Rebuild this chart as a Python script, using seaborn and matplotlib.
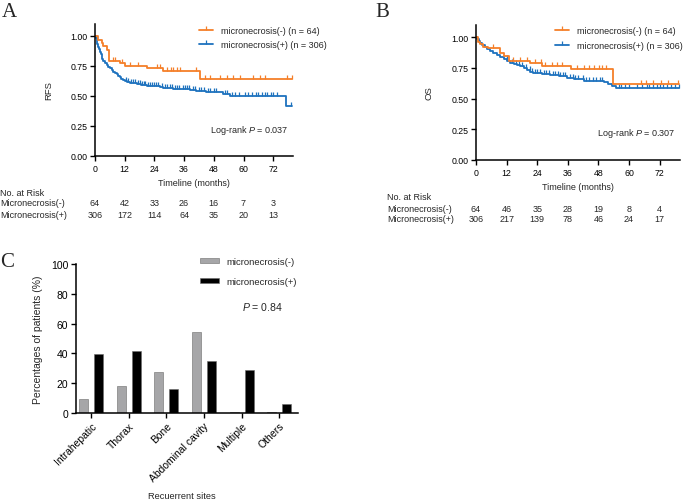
import numpy as np
import pandas as pd
import matplotlib
matplotlib.use("Agg")
import matplotlib.pyplot as plt
import matplotlib.transforms as mtransforms
from matplotlib.lines import Line2D
import seaborn as sns

sns.set_style("ticks")
plt.rcParams["font.family"] = ["Liberation Sans", "DejaVu Sans"]
plt.rcParams["mathtext.fontset"] = "custom"
plt.rcParams["mathtext.it"] = "Liberation Sans:italic"
plt.rcParams["mathtext.rm"] = "Liberation Sans"

ORANGE = "#F57F29"
BLUE = "#1E72BE"

# ---- Panel A: RFS (step points) ----
a_neg_t = [0, 1.35, 2.7, 3.4, 4.7, 5.0, 5.7, 10.1, 12.3, 20.9, 27.5, 42.3, 79.5]
a_neg_s = [1.0, 0.97, 0.94, 0.92, 0.905, 0.88, 0.793, 0.778, 0.75, 0.73, 0.705, 0.645, 0.645]
a_neg_cens = [7.1, 8.1, 10.8, 14.1, 17.5, 25.2, 26.2, 29.2, 30.6, 31.6, 33.0, 34.3, 41.0,
              44.4, 46.4, 50.5, 53.2, 55.9, 58.5, 63.9, 66.6, 68.6, 77.4, 79.4]

a_pos_t = [0, 0.3, 0.7, 1.0, 1.35, 1.7, 2.0, 2.4, 2.7, 3.0, 3.4, 4.0, 4.7, 5.4, 6.1, 6.8,
           7.4, 8.0, 8.7, 9.4, 10.1, 10.7, 11.4, 12.1, 12.8, 13.5, 14.1, 15.5, 16.8, 18.5,
           20.9, 23.5, 26.2, 27.6, 29.5, 31.6, 35.0, 38.4, 41.0, 45.0, 50.5, 51.8, 54.5,
           77.0, 79.5]
a_pos_s = [1.0, 0.98, 0.96, 0.935, 0.91, 0.89, 0.87, 0.85, 0.83, 0.81, 0.79, 0.775, 0.76,
           0.745, 0.73, 0.715, 0.70, 0.69, 0.68, 0.67, 0.66, 0.645, 0.63, 0.622, 0.617,
           0.613, 0.61, 0.605, 0.60, 0.594, 0.587, 0.584, 0.578, 0.57, 0.565, 0.56, 0.556,
           0.553, 0.54, 0.537, 0.533, 0.514, 0.50, 0.413, 0.413]
a_pos_cens = [12.5, 13.2, 14.6, 15.2, 16, 17.3, 18, 19, 19.6, 20.3, 21.5, 22.3, 23, 24,
              24.8, 25.6, 27, 28.3, 29, 30.3, 31, 32.4, 33.2, 34, 35.5, 36.2, 37, 38, 39.5,
              40.5, 42, 43, 44, 45.5, 46.5, 48, 49, 52.5, 53.3, 55.5, 56.5, 58, 60.5, 62,
              63.5, 65, 66, 67.5, 68.5, 69.5, 71, 72, 73.5, 79]
a_risk_neg = [64, 42, 33, 26, 16, 7, 3]
a_risk_pos = [306, 172, 114, 64, 35, 20, 13]

# ---- Panel B: OS ----
b_neg_t = [0, 0.9, 1.6, 2.9, 4.9, 9.5, 10.8, 12.8, 21.3, 25.9, 37.1, 53.6, 79.5]
b_neg_s = [1.0, 0.964, 0.945, 0.922, 0.91, 0.875, 0.845, 0.81, 0.787, 0.765, 0.74, 0.623, 0.623]
b_neg_cens = [6.8, 14.7, 17.4, 20.0, 23.3, 25.3, 27.2, 29.9, 31.8, 33.8, 39.7, 42.4, 44.3,
              46.3, 48.3, 49.6, 50.9, 64.7, 66.7, 69.3, 72.6, 75.3, 79.2]

b_pos_t = [0, 0.5, 1.0, 1.6, 2.5, 3.6, 4.5, 5.5, 6.8, 8.2, 9.5, 10.8, 12.1, 13.4, 14.8,
           16.1, 17.4, 18.7, 20.0, 21.3, 22.3, 23.3, 26.0, 29.2, 32.5, 35.8, 38.5, 41.1,
           42.4, 46.0, 50.3, 51.6, 53.5, 55.0, 79.8]
b_pos_s = [1.0, 0.985, 0.97, 0.95, 0.935, 0.918, 0.905, 0.89, 0.872, 0.855, 0.838, 0.82,
           0.805, 0.79, 0.782, 0.773, 0.762, 0.75, 0.735, 0.72, 0.712, 0.705, 0.697, 0.69,
           0.683, 0.67, 0.662, 0.656, 0.645, 0.641, 0.637, 0.623, 0.605, 0.587, 0.587]
b_pos_cens = [12, 14, 15.5, 17, 18, 19.5, 21, 22, 23, 24, 25, 26.5, 27.5, 28.5, 30, 31, 32,
              33, 34, 35, 37, 38, 39, 40, 42, 43, 44.5, 46, 47, 48.5, 49.5, 56, 57, 58.5,
              60, 63, 65, 67, 68, 69.5, 71, 72, 73.5, 75, 76.5, 78, 79.5]
b_risk_neg = [64, 46, 35, 28, 19, 8, 4]
b_risk_pos = [306, 217, 139, 78, 46, 24, 17]

risk_times = [0, 12, 24, 36, 48, 60, 72]

# ---- Panel C: recurrence sites ----
sites = ["Intrahepatic", "Thorax", "Bone", "Abdominal cavity", "Multiple", "Others"]
pct_neg = [9.1, 18.2, 27.3, 54.5, 1.0, 1.0]
pct_pos = [39.6, 41.8, 16.2, 34.6, 28.8, 6.1]

W, H = 685, 502
fig = plt.figure(figsize=(W / 100, H / 100), dpi=100)


def px_axes(left, top, right, bottom):
    return fig.add_axes([left / W, 1 - bottom / H, (right - left) / W, (bottom - top) / H])


def step_at(t, s, c):
    idx = np.searchsorted(np.asarray(t), np.asarray(c), side="right") - 1
    return np.asarray(s)[idx]


def style_axis(ax, size):
    sns.despine(ax=ax)
    for sp in ("left", "bottom"):
        ax.spines[sp].set_linewidth(1.1)
        ax.spines[sp].set_color("black")
    ax.tick_params(direction="out", length=3.5, width=1.0, colors="black",
                   labelsize=size, pad=2)


def km_panel(ax, neg, pos, ylabel, ptext, risk_neg, risk_pos, risk_x, risk_y):
    for (t, s, cens), col in ((pos, BLUE), (neg, ORANGE)):
        sns.lineplot(x=t, y=s, ax=ax, color=col, lw=1.3, drawstyle="steps-post",
                     estimator=None, sort=True)
        ax.plot(cens, step_at(t, s, cens), ls="none", marker=2, ms=3.0,
                mew=0.9, color=col)
    ax.set_xlim(0, 80)
    ax.set_ylim(0, 1.1)
    ax.set_xticks(risk_times)
    ax.set_yticks([0, 0.25, 0.5, 0.75, 1.0])
    ax.set_yticklabels([f"{v:.2f}" for v in [0, 0.25, 0.5, 0.75, 1.0]])
    style_axis(ax, 6.3)
    ax.set_ylabel(ylabel, fontsize=6.8)
    ax.yaxis.set_label_coords(-0.21, 0.5)
    ax.set_xlabel("Timeline (months)", fontsize=6.5)
    ax.xaxis.set_label_coords(0.5, -0.165)
    ax.text(0.975, 0.2, ptext, transform=ax.transAxes, ha="right", va="center",
            fontsize=6.5)
    handles = [Line2D([], [], color=ORANGE, lw=1.3, marker=2, ms=3.0, mew=0.9),
               Line2D([], [], color=BLUE, lw=1.3, marker=2, ms=3.0, mew=0.9)]
    ax.legend(handles, ["micronecrosis(-) (n = 64)", "micronecrosis(+) (n = 306)"],
              frameon=False, fontsize=6.5, loc="upper left", borderpad=0,
              borderaxespad=0, handlelength=1.55, handletextpad=0.9,
              labelspacing=0.6, bbox_to_anchor=legend_anchor[ylabel])
    tr = mtransforms.blended_transform_factory(ax.transData, fig.transFigure)
    fig.text(risk_x / W, 1 - risk_y[0] / H, "No. at Risk", fontsize=6.5, va="center")
    fig.text(risk_x / W, 1 - risk_y[1] / H, "Micronecrosis(-)", fontsize=6.5, va="center")
    fig.text(risk_x / W, 1 - risk_y[2] / H, "Micronecrosis(+)", fontsize=6.5, va="center")
    for tm, n1, n2 in zip(risk_times, risk_neg, risk_pos):
        ax.text(tm, 1 - risk_y[1] / H, str(n1), transform=tr, ha="center",
                va="center", fontsize=6.5)
        ax.text(tm, 1 - risk_y[2] / H, str(n2), transform=tr, ha="center",
                va="center", fontsize=6.5)


legend_anchor = {"RFS": (0.525, 0.985), "OS": (0.387, 0.99)}

axA = px_axes(95, 25, 293, 157)
km_panel(axA, (a_neg_t, a_neg_s, a_neg_cens), (a_pos_t, a_pos_s, a_pos_cens), "RFS",
         "Log-rank $P$ = 0.037", a_risk_neg, a_risk_pos, 0, (193, 204, 215))

axB = px_axes(476, 26, 680, 161)
km_panel(axB, (b_neg_t, b_neg_s, b_neg_cens), (b_pos_t, b_pos_s, b_pos_cens), "OS",
         "Log-rank $P$ = 0.307", b_risk_neg, b_risk_pos, 387, (198, 209, 219))

# ---- Panel C ----
axC = px_axes(76, 265, 298, 414)
df = pd.DataFrame({
    "site": sites * 2,
    "group": ["micronecrosis(-)"] * len(sites) + ["micronecrosis(+)"] * len(sites),
    "pct": pct_neg + pct_pos,
})
sns.barplot(data=df, x="site", y="pct", hue="group", order=sites,
            hue_order=["micronecrosis(-)", "micronecrosis(+)"],
            palette=["#A6A6A8", "#000000"], width=0.8, gap=0.4, ax=axC,
            edgecolor="#6a6a6a", linewidth=0.4, legend=True)
axC.set_xlim(-0.4, 5.5)
axC.set_ylim(0, 100)
axC.set_yticks([0, 20, 40, 60, 80, 100])
style_axis(axC, 7.5)
plt.setp(axC.get_xticklabels(), rotation=45, ha="right", rotation_mode="anchor")
axC.set_ylabel("Percentages of patients (%)", fontsize=7.5)
axC.yaxis.set_label_coords(-0.15, 0.5)
axC.set_xlabel("Recuerrent sites", fontsize=6.7)
axC.xaxis.set_label_coords(0.477, -0.525)
axC.legend(frameon=False, fontsize=6.8, loc="upper left", bbox_to_anchor=(0.56, 1.045),
           borderpad=0, borderaxespad=0, handlelength=1.95, handleheight=0.45,
           handletextpad=0.86, labelspacing=1.1)
axC.text(0.839, 0.717, "$P$ = 0.84", transform=axC.transAxes, ha="center",
         va="center", fontsize=7.6)

# panel letters
for lbl, x, y in (("A", 2, 3), ("B", 375, 3), ("C", 0, 253)):
    fig.text(x / W, 1 - y / H, lbl, family="Liberation Serif", fontsize=15, va="top")

fig.savefig("out.png", dpi=100)
